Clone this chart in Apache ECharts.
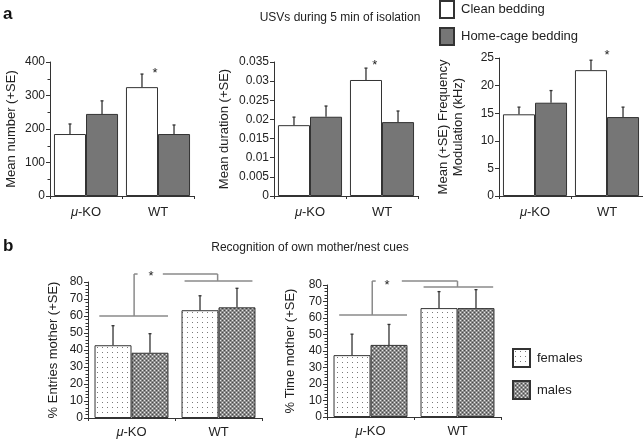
<!DOCTYPE html>
<html><head><meta charset="utf-8">
<script src="https://cdn.jsdelivr.net/npm/echarts@6/dist/echarts.min.js"></script>
<style>html,body{margin:0;padding:0;background:#fff}#c{width:643px;height:441px}</style>
</head><body><div id="c"></div>
<script>
// ---------- data ----------
const categories = ['μ-KO', 'WT'];
// panel a (USVs)
const numberClean = [185, 325];
const numberCleanSE = [30, 39];
const numberHome = [245, 185];
const numberHomeSE = [39, 27];
const durationClean = [0.0185, 0.0303];
const durationCleanSE = [0.0021, 0.0031];
const durationHome = [0.0207, 0.0193];
const durationHomeSE = [0.0028, 0.0029];
const freqClean = [14.8, 22.8];
const freqCleanSE = [1.3, 1.8];
const freqHome = [16.9, 14.3];
const freqHomeSE = [2.2, 1.8];
// panel b (recognition)
const entriesFemales = [42.8, 63.4];
const entriesFemalesSE = [11.5, 8.5];
const entriesMales = [38.4, 65.1];
const entriesMalesSE = [11.2, 11.2];
const timeFemales = [37.5, 66.0];
const timeFemalesSE = [12.7, 10.0];
const timeMales = [43.7, 66.0];
const timeMalesSE = [12.4, 11.2];
// significance marks: [category position, value]
const starNumber = [0.96, 367];
const starDuration = [0.9, 0.034];
const starFreq = [1.0, 25.5];
const starEntries = [0.225, 83.5];
const starTime = [0.19, 80];
// brackets: [pos1, value1, pos2, value2] in category units
const bracketEntries = [[-0.37,60,0.42,60],[0.03,60,0.03,84.7],[0.03,84.7,0.07,84.7],[0.36,84.7,0.99,84.7],[0.99,84.7,0.99,80.6],[0.61,80.6,1.39,80.6]];
const bracketTime = [[-0.36,61.8,0.42,61.8],[0.02,61.8,0.02,82.4],[0.02,82.4,0.06,82.4],[0.36,82.4,1.0,82.4],[1.0,82.4,1.0,78.8],[0.61,78.8,1.41,78.8]];

// ---------- patterns ----------
function makePattern(kind){
  const c = document.createElement('canvas');
  if (kind === 'dots') {
    c.width = 5; c.height = 5;
    const g = c.getContext('2d');
    g.fillStyle = '#ffffff'; g.fillRect(0,0,5,5);
    g.fillStyle = '#7a7a7a'; g.fillRect(2,2,1,1);
  } else {
    c.width = 4; c.height = 4;
    const g = c.getContext('2d');
    g.fillStyle = '#8c8c8c'; g.fillRect(0,0,4,4);
    g.fillStyle = '#e6e6e6'; g.fillRect(0,0,1,1); g.fillRect(2,2,1,1);
    g.fillStyle = '#4a4a4a'; g.fillRect(2,0,1,1); g.fillRect(0,2,1,1);
  }
  return {image: c, repeat: 'repeat'};
}
const femalePattern = makePattern('dots');
const malePattern = makePattern('cross');

const FONT = 'Liberation Sans, Arial, Helvetica, sans-serif';
const AX = '#333';
const gapA = 0.11, gapB = 0.15;

const grids = [
  {left: 50, top: 62, width: 144, height: 134},
  {left: 274, top: 62, width: 144, height: 134},
  {left: 499, top: 58, width: 144, height: 138},
  {left: 88, top: 282, width: 174, height: 136},
  {left: 327, top: 285, width: 174, height: 132}
];

function xAxis(i, margin){
  return {type: 'category', gridIndex: i, data: categories,
    axisLine: {lineStyle: {color: AX, width: 1}},
    axisTick: {show: true, length: 3, lineStyle: {color: AX}},
    axisLabel: {color: '#222', fontSize: 13, fontFamily: FONT, margin: margin,
      formatter: v => v === 'μ-KO' ? '{i|μ}-KO' : v,
      rich: {i: {fontStyle: 'italic', fontSize: 13, fontFamily: FONT, color: '#222'}}}
  };
}
function yAxis(i, max, interval, name, gap, minorSplit){
  return {type: 'value', gridIndex: i, min: 0, max: max, interval: interval,
    name: name, nameLocation: 'middle', nameGap: gap, nameRotate: 90,
    nameTextStyle: {color: '#222', fontSize: 13, fontFamily: FONT, lineHeight: 15},
    axisLine: {show: true, lineStyle: {color: AX, width: 1}},
    axisTick: {show: true, length: 4, lineStyle: {color: AX}},
    minorTick: {show: !!minorSplit, splitNumber: minorSplit || 2, length: 2.5, lineStyle: {color: AX}},
    splitLine: {show: false},
    axisLabel: {color: '#222', fontSize: 12, fontFamily: FONT, margin: 5}
  };
}

function bar(i, name, data, color, gap){
  return {type: 'bar', name: name, xAxisIndex: i, yAxisIndex: i, data: data,
    barGap: '0%', barCategoryGap: (gap*100) + '%',
    itemStyle: {color: color, borderColor: '#333', borderWidth: 1},
    emphasis: {disabled: true}, z: 2};
}
function err(i, means, ses, side, gap){
  return {type: 'custom', xAxisIndex: i, yAxisIndex: i, clip: false, silent: true, z: 3,
    data: means.map((m, k) => [k, m, m + ses[k]]),
    encode: {x: 0, y: [1, 2]},
    renderItem(params, api){
      const c0 = api.coord([api.value(0), api.value(1)]);
      const c1 = api.coord([api.value(0), api.value(2)]);
      const band = api.size([1, 0])[0];
      const bw = band * (1 - gap) / 2;
      const x = c0[0] + side * bw / 2;
      return {type: 'group', children: [
        {type: 'line', shape: {x1: x, y1: c0[1], x2: x, y2: c1[1]}, style: {stroke: '#333', lineWidth: 1.3}},
        {type: 'line', shape: {x1: x - 1.5, y1: c1[1], x2: x + 1.5, y2: c1[1]}, style: {stroke: '#333', lineWidth: 1.3}}
      ]};
    }
  };
}
function star(i, pos){
  return {type: 'custom', xAxisIndex: i, yAxisIndex: i, clip: false, silent: true, z: 4,
    data: [[pos[0], pos[1]]],
    renderItem(params, api){
      const c = api.coord([0, api.value(1)]);
      const band = api.size([1, 0])[0];
      return {type: 'text', style: {x: c[0] + api.value(0) * band, y: c[1], text: '*',
        fill: '#222', font: '13px ' + FONT, textAlign: 'center', textVerticalAlign: 'middle'}};
    }
  };
}
function brackets(i, segs){
  return {type: 'custom', xAxisIndex: i, yAxisIndex: i, clip: false, silent: true, z: 4,
    data: segs,
    renderItem(params, api){
      const band = api.size([1, 0])[0];
      const p1 = api.coord([0, api.value(1)]);
      const p2 = api.coord([0, api.value(3)]);
      return {type: 'line', shape: {x1: p1[0] + api.value(0) * band, y1: p1[1],
        x2: p2[0] + api.value(2) * band, y2: p2[1]},
        style: {stroke: '#8a8a8a', lineWidth: 1.5}};
    }
  };
}

const option = {
  animation: false,
  backgroundColor: '#fff',
  textStyle: {fontFamily: FONT},
  grid: grids.map(g => Object.assign({containLabel: false}, g)),
  xAxis: [xAxis(0, 10), xAxis(1, 10), xAxis(2, 10), xAxis(3, 8), xAxis(4, 8)],
  yAxis: [
    yAxis(0, 400, 100, 'Mean number (+SE)', 31, 2),
    yAxis(1, 0.035, 0.005, 'Mean duration (+SE)', 42, 0),
    yAxis(2, 25, 5, 'Mean (+SE) Frequency\nModulation (kHz)', 33, 0),
    yAxis(3, 80, 10, '% Entries mother (+SE)', 27, 5),
    yAxis(4, 80, 10, '% Time mother (+SE)', 29, 5)
  ],
  legend: [
    {data: ['Clean bedding', 'Home-cage bedding'], orient: 'vertical', left: 439, top: 0,
      icon: 'rect', itemWidth: 14, itemHeight: 17, itemGap: 8, selectedMode: false,
      textStyle: {fontSize: 13, color: '#222', fontFamily: FONT, padding: [0, 0, 0, 2]}, padding: 0},
    {data: ['females', 'males'], orient: 'vertical', left: 512, top: 348,
      icon: 'rect', itemWidth: 17, itemHeight: 18, itemGap: 12, selectedMode: false,
      textStyle: {fontSize: 13, color: '#222', fontFamily: FONT, padding: [0, 0, 0, 2]}, padding: 0}
  ],
  graphic: [
    {type: 'text', left: 3, top: 6, style: {text: 'a', font: 'bold 17px ' + FONT, fill: '#111'}},
    {type: 'text', left: 3, top: 238, style: {text: 'b', font: 'bold 17px ' + FONT, fill: '#111'}},
    {type: 'text', x: 340, y: 18, style: {text: 'USVs during 5 min of isolation', font: '12px ' + FONT, fill: '#222', textAlign: 'center', textVerticalAlign: 'middle'}},
    {type: 'text', x: 310, y: 248, style: {text: 'Recognition of own mother/nest cues', font: '12px ' + FONT, fill: '#222', textAlign: 'center', textVerticalAlign: 'middle'}}
  ],
  series: [
    bar(0, 'Clean bedding', numberClean, '#ffffff', gapA),
    bar(0, 'Home-cage bedding', numberHome, '#767676', gapA),
    err(0, numberClean, numberCleanSE, -1, gapA),
    err(0, numberHome, numberHomeSE, 1, gapA),
    star(0, starNumber),
    bar(1, 'Clean bedding', durationClean, '#ffffff', gapA),
    bar(1, 'Home-cage bedding', durationHome, '#767676', gapA),
    err(1, durationClean, durationCleanSE, -1, gapA),
    err(1, durationHome, durationHomeSE, 1, gapA),
    star(1, starDuration),
    bar(2, 'Clean bedding', freqClean, '#ffffff', gapA),
    bar(2, 'Home-cage bedding', freqHome, '#767676', gapA),
    err(2, freqClean, freqCleanSE, -1, gapA),
    err(2, freqHome, freqHomeSE, 1, gapA),
    star(2, starFreq),
    bar(3, 'females', entriesFemales, femalePattern, gapB),
    bar(3, 'males', entriesMales, malePattern, gapB),
    err(3, entriesFemales, entriesFemalesSE, -1, gapB),
    err(3, entriesMales, entriesMalesSE, 1, gapB),
    brackets(3, bracketEntries),
    star(3, starEntries),
    bar(4, 'females', timeFemales, femalePattern, gapB),
    bar(4, 'males', timeMales, malePattern, gapB),
    err(4, timeFemales, timeFemalesSE, -1, gapB),
    err(4, timeMales, timeMalesSE, 1, gapB),
    brackets(4, bracketTime),
    star(4, starTime)
  ]
};
const chart = echarts.init(document.getElementById('c'), null, {renderer: 'canvas'});
chart.setOption(option);
</script>
</body></html>
